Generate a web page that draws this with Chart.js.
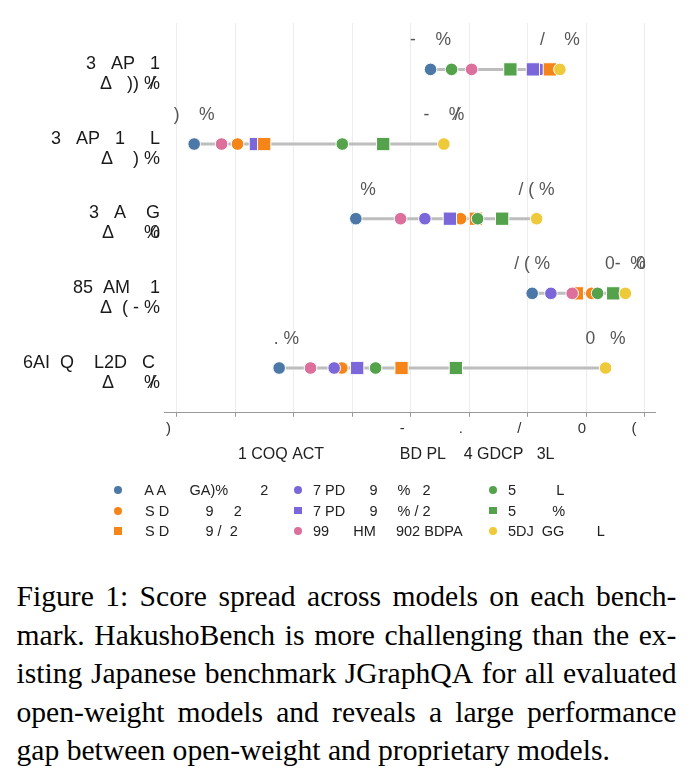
<!DOCTYPE html>
<html><head><meta charset="utf-8">
<script src="https://cdn.jsdelivr.net/npm/chart.js@4/dist/chart.umd.min.js"></script>
<style>
body{margin:0;background:#fff;width:691px;height:770px;position:relative;overflow:hidden;font-family:"Liberation Sans",Arial,sans-serif}
#wrap{position:absolute;left:0;top:0;width:691px;height:470px}
#legend{position:absolute;left:0;top:0;width:691px;height:560px;pointer-events:none}
.li{position:absolute;white-space:pre;font-size:14.5px;color:#222;line-height:20px;height:20px}
.mk{position:absolute;width:8px;height:8px}
#caption{position:absolute;left:16.5px;top:577px;width:660px;font-family:"Liberation Serif","Times New Roman",serif;font-size:29.6px;line-height:38.6px;color:#000}
.ln{display:flex;justify-content:space-between;white-space:nowrap;height:38.6px}
.last{white-space:nowrap;height:38.6px}
</style></head>
<body>
<div id="wrap"><canvas id="c" width="691" height="470"></canvas></div>
<div id="legend"></div>
<div id="caption"></div>
<script>
// ---- data ----
const benchmarks = ["3   AP   1", "3   AP   1     L", "3   A    G", "85  AM    1", "6AI  Q    L2D   C "];
const deltaLabels = [["Δ   )) %", "/ "], ["Δ    ) %"], ["Δ      %", "0"], ["Δ  ( - %"], ["Δ      %", "/ "]];
const minLabels = [["-    %"], [")    %"], ["     %"], ["/ ( %"], ["   . %"]];
const maxLabels = [["/    %"], ["-    %", "/ "], ["/ ( %"], ["0-  %", "0"], ["0   %"]];
const tickValues = [20, 30, 40, 50, 60, 70, 80, 90, 100];
const tickLabels = [")    ", "  ", "  ", "  ", "-    ", ".    ", "/    ", "0  ", "(     "];
const xTitle = "1 COQ ACT                 BD PL    4 GDCP   3L      ";
const models = ["   A A      GA)%        2", "   S D         9     2", "   S D         9 /  2",
                "7 PD      9     %   2", "7 PD      9     % / 2", "99      HM     902 BDPA",
                "5          L", "5         %", "5DJ  GG        L"];
const colors = ["#4c78a8", "#f58518", "#f58518", "#7b66da", "#7b66da", "#dc6f9b", "#54a24b", "#54a24b", "#eeca3b"];
const shapes = ["circle", "circle", "rect", "circle", "rect", "circle", "circle", "rect", "circle"];
const zOrder = [9, 8, 5, 7, 6, 4, 3, 2, 1];
const sBlue    = [63.40, 22.96, 50.62, 80.79, 37.50];
const sOrangeC = [84.60, 30.38, 68.54, 90.95, 48.23];
const sOrangeS = [83.81, 34.94, 71.15, 88.43, 58.44];
const sPurpleC = [82.10, 34.94, 62.43, 83.99, 46.91];
const sPurpleS = [80.91, 33.52, 66.71, 88.43, 50.85];
const sPink    = [70.42, 27.65, 58.27, 87.63, 42.87];
const sGreenC  = [67.00, 48.30, 71.45, 91.98, 54.00];
const sGreenS  = [77.06, 55.30, 75.65, 94.65, 67.73];
const sYellow  = [85.53, 65.68, 81.54, 96.73, 93.34];
const series = [sBlue, sOrangeC, sOrangeS, sPurpleC, sPurpleS, sPink, sGreenC, sGreenS, sYellow];

// ---- build ----
const FONT = '"Liberation Sans", Arial, sans-serif';
const datasets = [];
benchmarks.forEach((b, i) => {
  const vals = series.map(s => s[i]);
  datasets.push({
    label: 'range' + i, showLine: true,
    data: [{x: Math.min(...vals), y: i}, {x: Math.max(...vals), y: i}],
    borderColor: '#bdbdbd', borderWidth: 3, pointRadius: 0, order: 100
  });
});
series.forEach((s, k) => {
  datasets.push({
    label: models[k],
    data: s.map((v, i) => ({x: v, y: i})),
    backgroundColor: colors[k], borderColor: '#ffffff', borderWidth: 1,
    pointStyle: shapes[k], pointRadius: shapes[k] === 'rect' ? 9.4 : 6.3,
    order: zOrder[k]
  });
});

function drawParts(ctx, parts, cx, cy, align) {
  const main = parts[0];
  const w = ctx.measureText(main).width;
  let right;
  if (align === 'center') { ctx.textAlign = 'left'; ctx.fillText(main, cx - w / 2, cy); right = cx + w / 2; }
  else { ctx.textAlign = 'right'; ctx.fillText(main, cx, cy); right = cx; }
  ctx.textAlign = 'right';
  for (let k = 1; k < parts.length; k++) ctx.fillText(parts[k], right, cy);
}

const labelPlugin = {
  id: 'labels',
  afterDatasetsDraw(chart) {
    const {ctx, scales: {x, y}} = chart;
    ctx.save();
    ctx.font = '17.5px ' + FONT;
    ctx.fillStyle = '#555';
    ctx.textBaseline = 'middle';
    benchmarks.forEach((b, i) => {
      const vals = series.map(s => s[i]);
      const yp = y.getPixelForValue(i) - 29;
      drawParts(ctx, minLabels[i], x.getPixelForValue(Math.min(...vals)), yp, 'center');
      drawParts(ctx, maxLabels[i], x.getPixelForValue(Math.max(...vals)), yp, 'center');
    });
    ctx.font = '18px ' + FONT;
    ctx.fillStyle = '#1a1a1a';
    ctx.textBaseline = 'alphabetic';
    benchmarks.forEach((b, i) => {
      const yp = y.getPixelForValue(i);
      drawParts(ctx, [b], 160, yp - 0.5, 'right');
      drawParts(ctx, deltaLabels[i], 160, yp + 19.5, 'right');
    });
    ctx.restore();
  }
};

new Chart(document.getElementById('c'), {
  type: 'scatter',
  data: {datasets},
  options: {
    responsive: false, animation: false, devicePixelRatio: 1,
    layout: {padding: {left: 164, right: 36, top: 23, bottom: 4}},
    plugins: {legend: {display: false}, tooltip: {enabled: false}},
    scales: {
      x: {
        type: 'linear', min: 17.8, max: 101.8,
        afterBuildTicks: s => { s.ticks = tickValues.map(v => ({value: v})); },
        ticks: {callback: (v, i) => tickLabels[i], font: {family: FONT, size: 15}, color: '#333',
                padding: 3, maxRotation: 0, autoSkip: false},
        grid: {color: '#ececec', tickColor: '#999', tickLength: 4, drawTicks: true},
        border: {color: '#999'},
        title: {display: true, text: xTitle, font: {family: FONT, size: 16}, color: '#222',
                padding: {top: 4, bottom: 2}}
      },
      y: {type: 'linear', min: -0.6215, max: 4.6, reverse: true, display: false}
    }
  },
  plugins: [labelPlugin]
});

// legend (column-major, 3 rows)
const leg = document.getElementById('legend');
const colX = [118, 298, 493], rowY = [490, 510.7, 531];
models.forEach((m, k) => {
  const c = Math.floor(k / 3), r = k % 3;
  const mk = document.createElement('div');
  mk.className = 'mk';
  const sz = shapes[k] === 'rect' ? 7.5 : 8;
  mk.style.width = sz + 'px'; mk.style.height = sz + 'px';
  mk.style.left = (colX[c] - sz / 2) + 'px'; mk.style.top = (rowY[r] - sz / 2) + 'px';
  mk.style.background = colors[k];
  mk.style.borderRadius = shapes[k] === 'rect' ? '0' : '50%';
  leg.appendChild(mk);
  const t = document.createElement('div');
  t.className = 'li'; t.textContent = m;
  t.style.left = (colX[c] + 15) + 'px'; t.style.top = (rowY[r] - 10) + 'px';
  leg.appendChild(t);
});

// caption
const captionLines = [
  "Figure 1: Score spread across models on each bench-",
  "mark. HakushoBench is more challenging than the ex-",
  "isting Japanese benchmark JGraphQA for all evaluated",
  "open-weight models and reveals a large performance",
  "gap between open-weight and proprietary models."
];
const cap = document.getElementById('caption');
captionLines.forEach((line, i) => {
  const d = document.createElement('div');
  if (i < captionLines.length - 1) {
    d.className = 'ln';
    line.split(' ').forEach(w => { const s = document.createElement('span'); s.textContent = w; d.appendChild(s); });
  } else { d.className = 'last'; d.textContent = line; }
  cap.appendChild(d);
});
</script>
</body></html>
